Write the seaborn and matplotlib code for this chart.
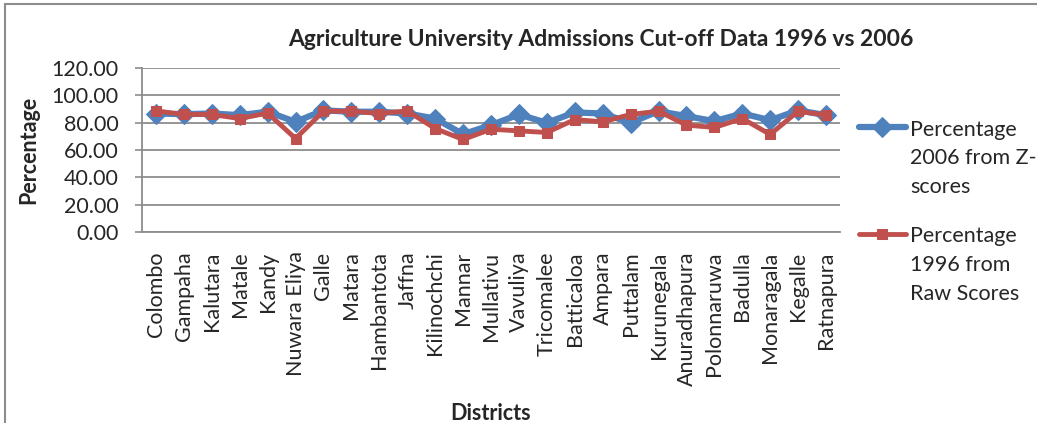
import numpy as np
import pandas as pd
import matplotlib
matplotlib.use("Agg")
import matplotlib.pyplot as plt
from matplotlib.lines import Line2D
import seaborn as sns

districts = ["Colombo", "Gampaha", "Kalutara", "Matale", "Kandy", "Nuwara Eliya",
             "Galle", "Matara", "Hambantota", "Jaffna", "Kilinochchi", "Mannar",
             "Mullativu", "Vavuliya", "Tricomalee", "Batticaloa", "Ampara",
             "Puttalam", "Kurunegala", "Anuradhapura", "Polonnaruwa", "Badulla",
             "Monaragala", "Kegalle", "Ratnapura"]
pct_2006_z = [86.7, 86.2, 86.7, 85.5, 88.0, 80.6, 89.0, 88.0, 88.0, 86.7, 83.0, 71.6,
              78.2, 86.0, 79.9, 87.5, 86.7, 79.9, 88.4, 84.8, 81.1, 86.7, 81.8, 89.0, 85.5]
pct_1996_raw = [88.6, 86.0, 86.0, 83.0, 87.0, 68.4, 88.4, 88.4, 86.7, 88.6, 75.7, 67.7,
                75.2, 74.0, 72.8, 82.3, 80.6, 86.0, 88.4, 78.2, 76.5, 83.0, 71.4, 88.4, 85.5]
series_names = ["Percentage\n2006 from Z-\nscores", "Percentage\n1996 from\nRaw Scores"]
yticks = [0, 20, 40, 60, 80, 100, 120]

sns.set_style("white")
plt.rcParams["font.family"] = ["Lato", "DejaVu Sans"]

pos = np.arange(len(districts))
df = pd.DataFrame({
    "pos": np.concatenate([pos, pos]),
    "value": pct_2006_z + pct_1996_raw,
    "series": [series_names[0]] * len(districts) + [series_names[1]] * len(districts),
})

blue = "#4F81BD"
red = "#C0504D"
grid = "#8C8C8C"
fs = 15.5

fig = plt.figure(figsize=(10.37, 4.23), dpi=100)
ax = fig.add_axes([142 / 1037, 1 - 232 / 423, (840 - 142) / 1037, (232 - 68) / 423])

sns.lineplot(data=df[df.series == series_names[0]], x="pos", y="value", ax=ax,
             color=blue, linewidth=4.5, marker="D", markersize=10.5,
             markeredgecolor=blue, markerfacecolor=blue, label=series_names[0], zorder=3)
sns.lineplot(data=df[df.series == series_names[1]], x="pos", y="value", ax=ax,
             color=red, linewidth=3.5, marker="s", markersize=6.5,
             markeredgecolor=red, markerfacecolor=red, label=series_names[1], zorder=4)

ax.set_xlim(-0.5, len(districts) - 0.5)
ax.set_ylim(0, 120)
ax.set_yticks(yticks)
ax.set_yticklabels([f"{v:.2f}" for v in yticks])
ax.set_xticks(pos)
ax.set_xticklabels(districts, rotation=90, va="top", ha="center")
ax.tick_params(axis="x", length=0, pad=14, labelsize=fs)
ax.tick_params(axis="y", length=5, width=1.2, color=grid, direction="out", pad=12, labelsize=fs, left=True)
ax.grid(axis="y", color=grid, linewidth=1.3)
ax.grid(axis="x", visible=False)
for side in ["top", "right"]:
    ax.spines[side].set_visible(False)
for side in ["left", "bottom"]:
    ax.spines[side].set_color(grid)
    ax.spines[side].set_linewidth(1.3)

ax.set_xlabel("Districts", fontsize=15.5, fontweight="bold", labelpad=12)
ax.set_ylabel("Percentage", fontsize=15.5, fontweight="bold", labelpad=9)
ax.set_title("Agriculture University Admissions Cut-off Data 1996 vs 2006",
             fontsize=16.5, fontweight="bold", x=(601 - 142) / (840 - 142), y=1.0, pad=16)

leg = ax.legend(loc="upper left", bbox_to_anchor=(850 / 1037, 1 - 111 / 423),
                bbox_transform=fig.transFigure, frameon=False, fontsize=fs,
                handlelength=2.2, handletextpad=0.2, labelspacing=1.35, borderaxespad=0)
for t in leg.get_texts():
    t.set_linespacing(1.55)
try:
    for col in leg._legend_handle_box.get_children():
        for hp in col.get_children():
            hp.align = "top"
except Exception:
    pass

# chart frame
fig.add_artist(Line2D([5 / 1037, 5 / 1037], [0, 1 - 4 / 423], transform=fig.transFigure,
                      color="#8C8C8C", linewidth=1.5))
fig.add_artist(Line2D([5 / 1037, 1], [1 - 4 / 423, 1 - 4 / 423], transform=fig.transFigure,
                      color="#8C8C8C", linewidth=1.5))

fig.savefig("out.png", dpi=100)
